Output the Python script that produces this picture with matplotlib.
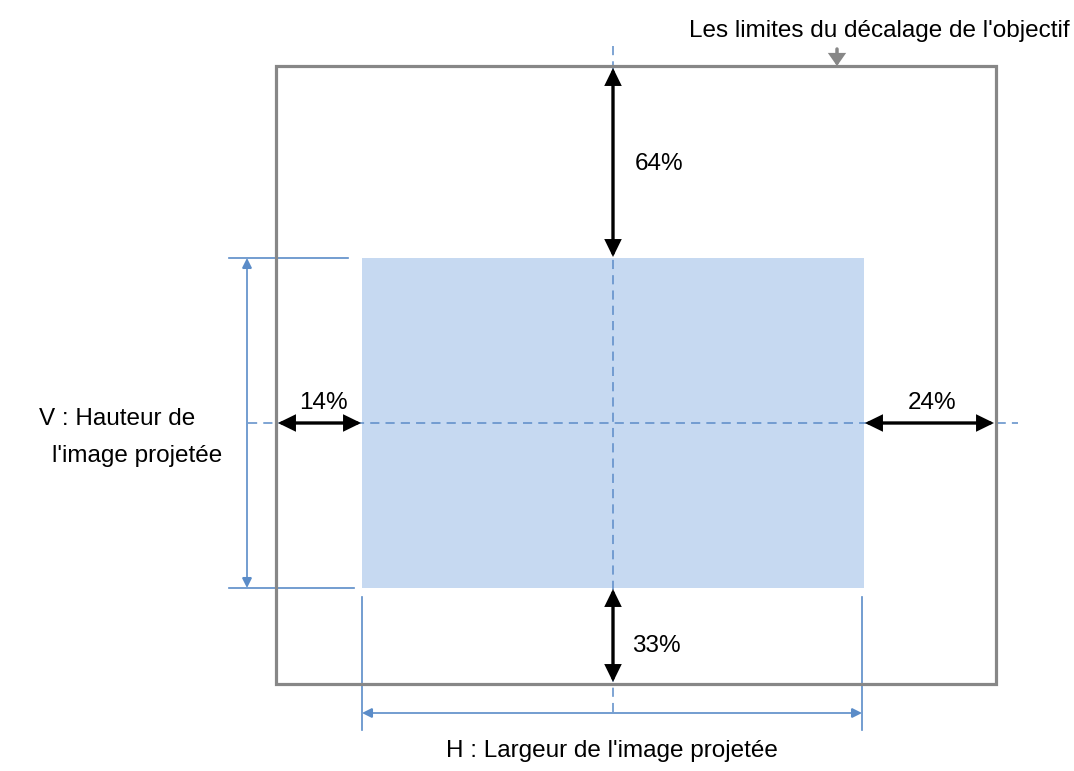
import matplotlib
matplotlib.use("Agg")
import matplotlib.pyplot as plt
from matplotlib.patches import Rectangle, FancyArrowPatch

plt.rcParams['font.family'] = ['Liberation Sans', 'DejaVu Sans']

# Data
shift_labels = ["64%", "33%", "14%", "24%"]   # up, down, left, right
title_text = "Les limites du décalage de l'objectif"
v_label = ["V : Hauteur de", "l'image projetée"]
h_label = "H : Largeur de l'image projetée"

W, H = 1074, 771
fig = plt.figure(figsize=(W / 100, H / 100), dpi=100)
ax = fig.add_axes([0, 0, 1, 1])
ax.set_xlim(0, W)
ax.set_ylim(H, 0)
ax.axis('off')

grey = '#878787'
blue = '#5B8CC8'
fill = '#C6D9F1'

# outer frame
ol, ot, orr, ob = 276, 66, 996, 684
# image rect
il, it, ir, ib = 362, 258, 864, 588
cx, cy = 613, 423

ax.add_patch(Rectangle((il, it), ir - il, ib - it, facecolor=fill, edgecolor='none', zorder=1))
ax.add_patch(Rectangle((ol, ot), orr - ol, ob - ot, facecolor='none', edgecolor=grey, lw=2.3, zorder=3))

# dashed center lines
ax.plot([cx, cx], [46, 712], color=blue, lw=1.1, ls=(0, (6, 4)), zorder=2)
ax.plot([248, 1018], [cy, cy], color=blue, lw=1.1, ls=(0, (6, 4)), zorder=2)

def darrow(p1, p2, color='black', lw=2.4, ms=20, style='<|-|>,head_length=0.45,head_width=0.22'):
    a = FancyArrowPatch(p1, p2, arrowstyle=style, mutation_scale=ms, color=color, lw=lw,
                        shrinkA=0, shrinkB=0, zorder=5, joinstyle='miter')
    ax.add_patch(a)

# shift arrows
darrow((cx, ot + 2), (cx, it - 1))
darrow((cx, ib + 1), (cx, ob - 2))
darrow((ol + 2, cy), (il - 1, cy))
darrow((ir + 1, cy), (orr - 2, cy))

fs = 17.5
ax.text(635, 164, shift_labels[0], fontsize=fs, va='center', ha='left')
ax.text(632, 646, shift_labels[1], fontsize=fs, va='center', ha='left')
ax.text(323, 403, shift_labels[2], fontsize=fs, va='center', ha='center')
ax.text(932, 403, shift_labels[3], fontsize=fs, va='center', ha='center')

# V dimension
ax.plot([229, 348], [it, it], color=blue, lw=1.2, zorder=2)
ax.plot([229, 354], [ib, ib], color=blue, lw=1.2, zorder=2)
darrow((247, it), (247, ib), color=blue, lw=1.2, ms=10,
       style='<|-|>,head_length=0.6,head_width=0.3')

# H dimension
ax.plot([il, il], [597, 730], color=blue, lw=1.2, zorder=2)
ax.plot([862, 862], [597, 730], color=blue, lw=1.2, zorder=2)
darrow((il, 713), (862, 713), color=blue, lw=1.2, ms=10,
       style='<|-|>,head_length=0.6,head_width=0.3')

# labels
ax.text(117, 419, v_label[0], fontsize=fs, va='center', ha='center')
ax.text(137, 456, v_label[1], fontsize=fs, va='center', ha='center')
ax.text(612, 751, h_label, fontsize=fs, va='center', ha='center')
ax.text(1070, 31, title_text, fontsize=fs, va='center', ha='right')

# small grey pointer arrow
darrow((837, 49), (837, 66), color=grey, lw=2.5, ms=12,
       style='-|>,head_length=0.5,head_width=0.35')

fig.savefig('out.png', dpi=100)
